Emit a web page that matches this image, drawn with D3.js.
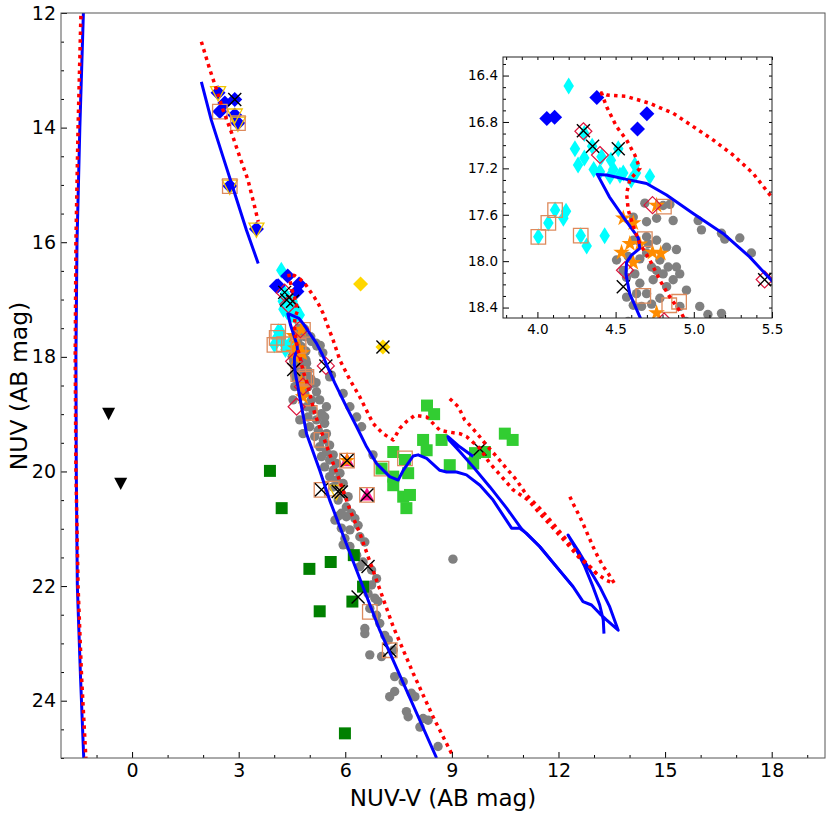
<!DOCTYPE html>
<html>
<head>
<meta charset="utf-8">
<script src="https://cdn.jsdelivr.net/npm/d3@7"></script>
<style>
  body { margin: 0; background: #fff; }
  text { font-family: "DejaVu Sans", sans-serif; }
</style>
</head>
<body>
<svg id="chart"></svg>
<script>
// ---- data: [NUV-V, NUV] ----
const grayPts = [
  [4.687,17.50],[4.804,17.52],[4.847,17.51],[4.868,17.65],[5.028,17.65],[5.049,17.73],[5.177,17.76],[5.198,17.81],
  [5.294,17.80],[5.368,17.93],[4.613,17.62],[4.698,17.66],[4.762,17.63],[4.613,17.82],[4.698,17.79],[4.709,17.85],
  [4.889,17.90],[4.506,17.99],[4.549,18.08],[4.581,17.96],[4.655,17.98],[4.698,17.93],[4.783,17.99],[4.836,18.05],
  [4.889,18.05],[4.804,18.11],[4.740,18.16],[4.868,18.16],[4.953,18.25],[4.655,18.19],[4.698,18.28],[4.783,18.32],
  [4.613,18.38],[4.666,18.39],[4.730,18.37],[4.911,18.39],[5.038,18.39],[5.177,18.45],[4.570,18.14],[4.623,18.11],
  [4.730,18.05],[4.826,18.22],[4.570,18.31],[4.826,17.88],[4.762,17.82],[4.910,18.11],[4.762,18.08],[4.634,18.28],
  [5.09,18.46],[4.95,18.52],[5.19,18.61],[4.86,18.64],[5.05,18.75],[5.28,18.75],[4.91,18.87],[5.09,18.93],
  [5.33,18.99],[5.47,18.87],[4.95,19.05],[5.19,19.10],[5.42,19.16],[5.00,19.22],[5.24,19.28],[5.47,19.34],
  [5.14,19.39],[5.38,19.45],[5.56,19.54],[5.28,19.57],[5.47,19.66],[5.66,19.71],[5.33,19.74],[5.56,19.80],
  [5.75,19.86],[5.42,19.92],[5.66,19.98],[5.85,20.03],[5.56,20.09],[5.75,20.15],[5.94,20.21],[5.66,20.27],
  [5.89,20.38],[6.08,20.44],[5.80,20.50],[6.03,20.62],[6.17,20.73],[5.89,20.73],
  [4.58,18.52],[4.53,18.75],[4.72,19.10],[4.81,19.34],
  [5.61,18.32],[5.56,18.35],[5.94,18.64],[6.13,18.87],[6.32,19.05],[6.46,19.22],[6.78,19.71],[5.42,19.05],
  [5.80,20.78],[6.03,20.79],[6.27,20.82],[5.71,20.85],[5.89,20.99],[6.13,21.02],[6.36,20.94],[6.41,21.14],
  [6.55,21.23],[5.99,21.17],[5.94,21.28],[6.13,21.31],[6.32,21.46],[6.50,21.58],[6.41,21.66],[6.74,21.72],
  [6.88,21.87],[6.74,21.98],[6.64,22.13],[6.83,22.21],[6.92,22.27],[6.69,22.39],[6.88,22.51],[6.97,22.65],
  [6.55,22.74],[6.55,22.83],[7.11,22.86],[7.21,22.94],[6.69,23.20],[7.02,23.23],[7.35,23.12],[7.39,23.58],
  [7.63,23.67],[7.39,23.84],[7.25,23.93],[7.86,23.87],[7.96,23.93],[7.72,24.19],[7.77,24.28],[8.19,24.31],
  [8.33,24.34],[8.10,24.46],[8.61,24.80],[9.03,21.53]
];
const cyanPts = [
  [4.20,16.49],[4.30,16.90],[4.35,17.01],[4.24,17.03],[4.30,17.11],[4.26,17.17],[4.36,17.21],[4.41,17.10],
  [4.40,17.23],[4.47,17.13],[4.485,17.21],[4.464,17.27],[4.528,17.26],[4.549,17.24],[4.517,17.03],[4.623,17.17],
  [4.63,17.24],[4.60,17.30],[4.719,17.27],[4.113,17.56],[4.07,17.67],[4.183,17.57],[4.166,17.63],[4.006,17.79],
  [4.277,17.78],[4.315,17.87],[4.43,17.78]
];
const bluePts = [
  [2.42,13.39],[2.89,13.51],[2.47,13.72],[2.61,13.57],[2.89,13.78],[2.98,13.92],[2.75,15.02],[3.50,15.77],
  [4.38,16.59],[4.06,16.77],[4.11,16.76],[4.70,16.73],[4.64,16.86]
];
const darkGreenPts = [
  [3.88,19.99],[4.21,20.64],[4.99,21.70],[5.59,21.58],[5.28,22.44],[6.24,21.46],[6.50,22.01],[6.20,22.27],[5.99,24.57]
];
const limeGreenPts = [
  [7.35,19.66],[7.02,19.95],[7.35,20.09],[7.35,20.24],[7.68,19.80],[7.77,20.03],[7.63,20.44],[7.82,20.41],
  [7.72,20.64],[8.30,18.85],[8.50,19.00],[8.19,19.45],[8.71,19.45],[8.29,19.63],[8.94,19.89],[9.60,19.86],
  [9.65,19.68],[9.93,19.66],[10.49,19.34],[10.71,19.45]
];
const orangeStarPts = [
  [4.762,17.52],[4.549,17.63],[4.613,17.67],[4.591,17.85],[4.538,17.925],[4.655,17.853],[4.736,17.925],
  [4.789,17.934],[4.613,18.014],[4.762,18.446],[4.81,18.70],[4.77,18.55],[6.05,19.81]
];
const orangeSquarePts = [
  [2.47,13.72],[2.98,13.92],[2.75,15.02],[4.113,17.56],[4.07,17.67],[4.006,17.79],[4.277,17.78],[4.809,17.53],
  [4.687,17.81],[4.677,18.30],[4.843,18.38],[4.906,18.35],[5.00,18.98],[5.33,19.45],[5.33,20.32],[5.62,20.30],
  [6.05,19.81],[6.61,20.41],[7.02,19.95],[7.68,19.77],[6.69,22.45],[7.25,23.12]
];
const redDiamondPts = [
  [4.294,16.88],[4.40,17.085],[4.736,17.517],[4.56,18.078],[5.453,18.158],[4.81,18.52],[4.63,18.87]
];
const crossPts = [
  [2.89,13.51],[4.294,16.875],[4.353,17.01],[4.517,17.03],[4.549,18.22],[5.453,18.16],[7.06,17.83],[5.33,20.32],
  [5.80,20.35],[5.89,20.36],[6.05,19.81],[6.61,20.41],[6.64,21.66],[6.36,22.19],[7.25,23.12],[9.79,19.61]
];
const goldDiamondPts = [[6.43,16.73],[7.06,17.83]];
const goldTrianglePts = [[2.42,13.39],[2.89,13.78],[2.98,13.92],[2.75,15.02],[3.50,15.77],[5.75,20.35]];
const magentaTrianglePts = [[6.05,19.81],[6.61,20.41]];
const blackTrianglePts = [[-0.66,18.98],[-0.32,20.20]];

// isochrones
const blueMain = [
  [8.57,25.0],[6.97,22.77],[6.03,21.26],[5.56,20.50],[5.28,19.98],[4.91,19.34],[4.70,18.64],[4.655,18.48],
  [4.59,18.28],[4.566,18.11],[4.57,18.01],[4.60,17.95],[4.655,17.89],[4.645,17.80],[4.55,17.62],[4.46,17.445],
  [4.383,17.252],[4.443,17.258],[4.57,17.295],[4.698,17.33],[4.826,17.43],[4.996,17.589],[5.187,17.761],
  [5.357,17.963],[5.496,18.165],[5.70,18.45],[6.03,18.87],[6.32,19.22],[6.60,19.57],[6.88,19.86],[7.25,20.09],
  [7.49,20.15],[7.63,19.98],[7.91,19.73],[8.05,19.71],[8.29,19.77],[8.66,19.98],[8.85,20.01],[9.13,20.01],
  [9.41,20.06],[9.79,20.24],[10.16,20.50],[10.68,20.99],[10.91,20.99],[11.10,21.08],[11.47,21.31],[11.94,21.66],
  [12.41,22.01],[12.69,22.27],[12.93,22.33],[13.16,22.48],[13.35,22.59],[13.68,22.77],[13.44,22.36],[13.16,22.01],
  [12.88,21.72],[12.60,21.43],[12.27,21.11],[12.51,21.37],[12.74,21.66],[12.97,22.01],[13.16,22.33],[13.26,22.59],
  [13.28,22.83]
];
const blueLoop = [
  [9.60,19.74],[9.22,19.57],[8.89,19.39],[8.92,19.45],[9.22,19.65],[9.60,19.92],[10.07,20.27],[10.54,20.64],
  [10.96,21.00],[11.47,21.31],[11.94,21.66],[12.41,22.01]
];
const blueUpper = [[1.95,13.20],[2.23,13.87],[2.56,14.51],[2.89,15.15],[3.22,15.79],[3.55,16.37]];
const blueLeft = [[-1.37,12],[-1.47,14],[-1.55,16],[-1.58,18],[-1.57,20],[-1.54,22],[-1.45,23.6],[-1.36,25]];

const redMain = [
  [8.99,24.92],[8.47,24.28],[7.91,23.52],[7.35,22.71],[6.88,21.90],[6.41,21.08],[6.13,20.67],[5.80,20.09],
  [5.52,19.63],[5.14,18.99],[4.921,18.45],[4.847,18.31],[4.783,18.164],[4.719,17.99],[4.655,17.85],[4.613,17.70],
  [4.581,17.56],[4.57,17.416],[4.591,17.30],[4.655,17.20],[4.623,17.085],[4.57,16.955],[4.506,16.84],[4.443,16.67],
  [4.41,16.55],[4.443,16.567],[4.57,16.58],[4.719,16.64],[4.868,16.725],[4.996,16.84],[5.123,16.955],[5.251,17.085],
  [5.379,17.243],[5.496,17.445],[5.66,17.71],[5.85,18.06],[6.13,18.40],[6.41,18.70],[6.78,19.16],[7.06,19.34],
  [7.35,19.45],[7.53,19.25],[7.72,19.13],[7.96,19.02],[8.29,19.05],[8.66,19.28],[8.89,19.31],[9.22,19.34],
  [9.41,19.39],[9.79,19.60],[10.07,19.86],[10.40,20.09],[10.72,20.32],[11.15,20.50],[11.47,20.73],[11.85,20.99],
  [12.23,21.25],[12.60,21.52],[12.88,21.66],[13.16,21.84]
];
const redBranch = [
  [8.94,18.73],[9.18,18.87],[9.36,19.10],[9.50,19.19],[9.74,19.36],[9.97,19.54],[10.26,19.74],[10.54,19.95],
  [10.82,20.15],[11.10,20.41],[11.47,20.64],[11.85,20.91],[12.23,21.20],[12.60,21.49],[12.79,21.60],[13.07,21.78],
  [13.35,21.90],[13.54,21.95]
];
const redRight = [
  [12.32,20.44],[12.41,20.56],[12.60,20.79],[12.69,20.91],[12.83,21.11],[12.97,21.31],[13.11,21.49],[13.26,21.66],
  [13.40,21.78],[13.63,22.01]
];
const redUpper = [[1.95,12.50],[2.19,12.99],[2.38,13.34],[2.56,13.69],[2.80,14.09],[3.03,14.51],[3.26,14.91],[3.45,15.38],[3.55,15.64]];
const redLeft = [[-1.44,12.05],[-1.52,14],[-1.58,16],[-1.60,18],[-1.58,20],[-1.52,22],[-1.42,23.6],[-1.30,25]];

const mainXTicks = [0, 3, 6, 9, 12, 15, 18];
const mainYTicks = [12, 14, 16, 18, 20, 22, 24];
const insetXTicks = [4.0, 4.5, 5.0, 5.5];
const insetYTicks = [16.4, 16.8, 17.2, 17.6, 18.0, 18.4];

// ---- layout ----
const W = 830, H = 813;
const svg = d3.select('#chart').attr('width', W).attr('height', H);

const xMain = d3.scaleLinear().domain([-2, 19.5]).range([61, 825]);
const yMain = d3.scaleLinear().domain([12, 25]).range([13, 758]);
const xIn = d3.scaleLinear().domain([3.78, 5.5]).range([503, 772]);
const yIn = d3.scaleLinear().domain([16.24, 18.49]).range([57, 318]);

// marker paths
const circle = r => `M${r},0A${r},${r} 0 1,1 ${-r},0A${r},${r} 0 1,1 ${r},0Z`;
const diamond = (w, h) => `M0,${-h/2}L${w/2},0L0,${h/2}L${-w/2},0Z`;
const square = s => `M${-s/2},${-s/2}h${s}v${s}h${-s}Z`;
const triUp = s => `M0,${-s*0.55}L${s/2},${s*0.4}L${-s/2},${s*0.4}Z`;
const triDown = s => `M0,${s*0.55}L${s/2},${-s*0.4}L${-s/2},${-s*0.4}Z`;
const cross = s => `M${-s/2},${-s/2}L${s/2},${s/2}M${-s/2},${s/2}L${s/2},${-s/2}`;
const star = d3.symbol(d3.symbolStar, 85)();

const layers = [
  {pts: grayPts, d: circle(4.7), fill: '#808080'},
  {pts: darkGreenPts, d: square(12), fill: '#008000'},
  {pts: limeGreenPts, d: square(12), fill: '#32cd32'},
  {pts: cyanPts, d: diamond(10.5, 17), fill: '#00ffff'},
  {pts: bluePts, d: diamond(15, 15), fill: '#0000ff'},
  {pts: goldDiamondPts, d: diamond(15, 15), fill: '#ffd700'},
  {pts: blackTrianglePts, d: triDown(13), fill: '#000'},
  {pts: magentaTrianglePts, d: triUp(14), fill: '#ff1493'},
  {pts: orangeStarPts, d: star, fill: '#ff8c00'},
  {pts: goldTrianglePts, d: triDown(15), fill: 'none', stroke: '#f2c500', sw: 1.3},
  {pts: orangeSquarePts, d: square(14.5), fill: 'none', stroke: '#dd8a5c', sw: 1.3},
  {pts: redDiamondPts, d: diamond(17, 17), fill: 'none', stroke: '#dc143c', sw: 1.2},
  {pts: crossPts, d: cross(13), fill: 'none', stroke: '#000', sw: 1.4}
];

const curves = [
  {pts: blueMain, color: '#0000ff', dash: null},
  {pts: blueLoop, color: '#0000ff', dash: null},
  {pts: blueUpper, color: '#0000ff', dash: null},
  {pts: blueLeft, color: '#0000ff', dash: null},
  {pts: redMain, color: '#ff0000', dash: '3.5,4.3'},
  {pts: redBranch, color: '#ff0000', dash: '3.5,4.3'},
  {pts: redRight, color: '#ff0000', dash: '3.5,4.3'},
  {pts: redUpper, color: '#ff0000', dash: '3.5,4.3'},
  {pts: redLeft, color: '#ff0000', dash: '3.5,4.3'}
];

function drawPanel(x, y, id) {
  let [x0, x1] = x.range(), [y0, y1] = y.range();

  svg.append('clipPath').attr('id', id)
    .append('rect').attr('x', x0).attr('y', y0).attr('width', x1 - x0).attr('height', y1 - y0);

  let g = svg.append('g').attr('clip-path', `url(#${id})`);

  layers.forEach(l => {
    g.append('g').selectAll('path')
      .data(l.pts)
      .join('path')
        .attr('d', l.d)
        .attr('transform', d => `translate(${x(d[0])},${y(d[1])})`)
        .attr('fill', l.fill)
        .attr('stroke', l.stroke || 'none')
        .attr('stroke-width', l.sw || 0);
  });

  let line = d3.line().x(d => x(d[0])).y(d => y(d[1]));
  curves.forEach(c => {
    g.append('path')
      .attr('d', line(c.pts))
      .attr('fill', 'none')
      .attr('stroke', c.color)
      .attr('stroke-width', c.dash ? 3.5 : 3)
      .attr('stroke-dasharray', c.dash)
      .attr('stroke-linejoin', 'round');
  });
  return g;
}

function axes(x, y, xt, yt, xMinor, yMinor, fs, fmt, frameColor, allSides) {
  let [x0, x1] = x.range(), [y0, y1] = y.range();
  let f = fmt ? d3.format('.1f') : d3.format('d');

  let groups = [
    svg.append('g').attr('transform', `translate(0,${y1})`)
      .call(d3.axisBottom(x).tickValues(xMinor).tickSize(-3).tickFormat('')),
    svg.append('g').attr('transform', `translate(0,${y1})`)
      .call(d3.axisBottom(x).tickValues(xt).tickSize(-6).tickPadding(6).tickFormat(f)),
    svg.append('g').attr('transform', `translate(${x0},0)`)
      .call(d3.axisLeft(y).tickValues(yMinor).tickSize(-3).tickFormat('')),
    svg.append('g').attr('transform', `translate(${x0},0)`)
      .call(d3.axisLeft(y).tickValues(yt).tickSize(-6).tickPadding(5).tickFormat(f))
  ];
  if (allSides) {
    groups.push(svg.append('g').attr('transform', `translate(0,${y0})`)
      .call(d3.axisTop(x).tickValues(xMinor.concat(xt)).tickSize(-3).tickFormat('')));
    groups.push(svg.append('g').attr('transform', `translate(${x1},0)`)
      .call(d3.axisRight(y).tickValues(yMinor.concat(yt)).tickSize(-3).tickFormat('')));
  }
  groups.forEach(gr => {
    gr.select('.domain').remove();
    gr.selectAll('.tick line').attr('stroke', '#000');
    gr.selectAll('.tick text').attr('fill', '#000')
      .style('font-family', '"DejaVu Sans", sans-serif').style('font-size', fs + 'px');
  });

  svg.append('rect')
    .attr('x', x0).attr('y', y0).attr('width', x1 - x0).attr('height', y1 - y0)
    .attr('fill', 'none').attr('stroke', frameColor).attr('stroke-width', 1);
}

// main panel
drawPanel(xMain, yMain, 'clipMain');
axes(xMain, yMain, mainXTicks, mainYTicks,
  d3.range(-1, 20, 1).filter(v => v % 3 !== 0),
  d3.range(12.5, 25.01, 0.5).filter(v => v % 2 !== 0),
  19, false, '#555', false);

svg.append('text')
  .attr('x', 443).attr('y', 806)
  .attr('text-anchor', 'middle')
  .style('font-size', '23px')
  .text('NUV-V (AB mag)');

svg.append('text')
  .attr('transform', 'translate(27,386) rotate(-90)')
  .attr('text-anchor', 'middle')
  .style('font-size', '23.5px')
  .text('NUV (AB mag)');

// inset panel
svg.append('rect')
  .attr('x', xIn.range()[0]).attr('y', yIn.range()[0])
  .attr('width', xIn.range()[1] - xIn.range()[0]).attr('height', yIn.range()[1] - yIn.range()[0])
  .attr('fill', '#fff');
drawPanel(xIn, yIn, 'clipInset');
axes(xIn, yIn, insetXTicks, insetYTicks,
  [3.8, 3.9, 4.1, 4.2, 4.3, 4.4, 4.6, 4.7, 4.8, 4.9, 5.1, 5.2, 5.3, 5.4],
  [16.3, 16.5, 16.6, 16.7, 16.9, 17.0, 17.1, 17.3, 17.4, 17.5, 17.7, 17.8, 17.9, 18.1, 18.2, 18.3],
  13.5, true, '#222', true);
</script>
</body>
</html>
